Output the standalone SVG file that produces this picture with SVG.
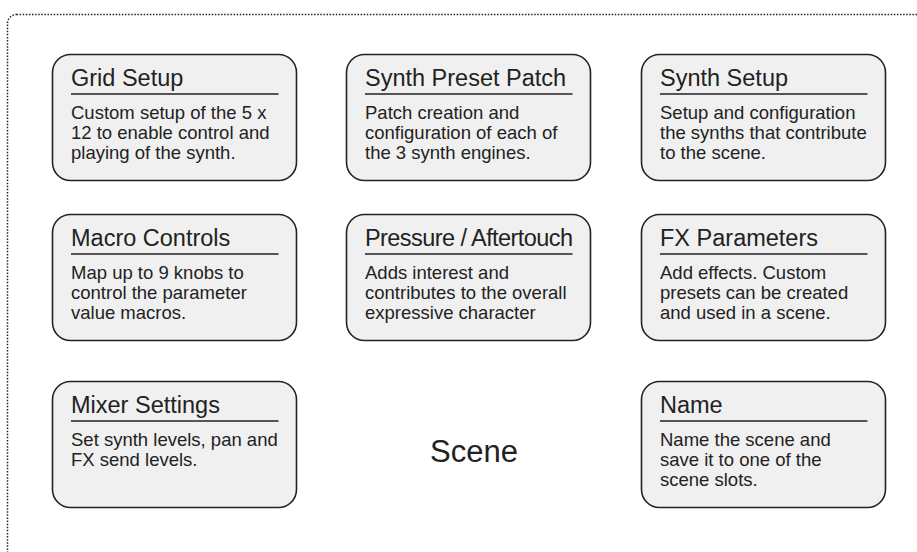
<svg xmlns="http://www.w3.org/2000/svg" width="917" height="552" viewBox="0 0 917 552">
  <style>
    .frame { fill: none; stroke: #222; stroke-width: 1.5; stroke-dasharray: 1.5 1.6; }
    .card { fill: #f0f0f0; stroke: #222; stroke-width: 1.6; }
    .rule { stroke: #222; stroke-width: 1.6; }
    .title { font-family: "Liberation Sans", Arial, sans-serif; font-size: 23.5px; fill: #222; }
    .body { font-family: "Liberation Sans", Arial, sans-serif; font-size: 18.5px; fill: #222; }
    .scene { font-family: "Liberation Sans", Arial, sans-serif; font-size: 31px; fill: #222; }
  </style>
  <rect width="917" height="552" fill="#fff"/>
  <!-- outer scene boundary, open to the right and bottom -->
  <rect class="frame" x="7.5" y="14.5" width="960" height="600" rx="9" ry="9"/>

  <g id="grid-setup" transform="translate(52.5,54.5)">
    <rect class="card" width="244" height="126" rx="18" ry="18"/>
    <text class="title" x="18.5" y="31">Grid Setup</text>
    <line class="rule" x1="18.5" y1="39.5" x2="226" y2="39.5"/>
    <text class="body" x="18.5" y="64">Custom setup of the 5 x</text>
    <text class="body" x="18.5" y="84">12 to enable control and</text>
    <text class="body" x="18.5" y="104">playing of the synth.</text>
  </g>

  <g id="synth-preset-patch" transform="translate(346.5,54.5)">
    <rect class="card" width="244" height="126" rx="18" ry="18"/>
    <text class="title" x="18.5" y="31">Synth Preset Patch</text>
    <line class="rule" x1="18.5" y1="39.5" x2="226" y2="39.5"/>
    <text class="body" x="18.5" y="64">Patch creation and</text>
    <text class="body" x="18.5" y="84">configuration of each of</text>
    <text class="body" x="18.5" y="104">the 3 synth engines.</text>
  </g>

  <g id="synth-setup" transform="translate(641.5,54.5)">
    <rect class="card" width="244" height="126" rx="18" ry="18"/>
    <text class="title" x="18.5" y="31">Synth Setup</text>
    <line class="rule" x1="18.5" y1="39.5" x2="226" y2="39.5"/>
    <text class="body" x="18.5" y="64">Setup and configuration</text>
    <text class="body" x="18.5" y="84">the synths that contribute</text>
    <text class="body" x="18.5" y="104">to the scene.</text>
  </g>

  <g id="macro-controls" transform="translate(52.5,214.5)">
    <rect class="card" width="244" height="126" rx="18" ry="18"/>
    <text class="title" x="18.5" y="31">Macro Controls</text>
    <line class="rule" x1="18.5" y1="39.5" x2="226" y2="39.5"/>
    <text class="body" x="18.5" y="64">Map up to 9 knobs to</text>
    <text class="body" x="18.5" y="84">control the parameter</text>
    <text class="body" x="18.5" y="104">value macros.</text>
  </g>

  <g id="pressure-aftertouch" transform="translate(346.5,214.5)">
    <rect class="card" width="244" height="126" rx="18" ry="18"/>
    <text class="title" x="18.5" y="31" textLength="208" lengthAdjust="spacing">Pressure / Aftertouch</text>
    <line class="rule" x1="18.5" y1="39.5" x2="226" y2="39.5"/>
    <text class="body" x="18.5" y="64">Adds interest and</text>
    <text class="body" x="18.5" y="84">contributes to the overall</text>
    <text class="body" x="18.5" y="104">expressive character</text>
  </g>

  <g id="fx-parameters" transform="translate(641.5,214.5)">
    <rect class="card" width="244" height="126" rx="18" ry="18"/>
    <text class="title" x="18.5" y="31">FX Parameters</text>
    <line class="rule" x1="18.5" y1="39.5" x2="226" y2="39.5"/>
    <text class="body" x="18.5" y="64">Add effects. Custom</text>
    <text class="body" x="18.5" y="84">presets can be created</text>
    <text class="body" x="18.5" y="104">and used in a scene.</text>
  </g>

  <g id="mixer-settings" transform="translate(52.5,381.5)">
    <rect class="card" width="244" height="126" rx="18" ry="18"/>
    <text class="title" x="18.5" y="31">Mixer Settings</text>
    <line class="rule" x1="18.5" y1="39.5" x2="226" y2="39.5"/>
    <text class="body" x="18.5" y="64">Set synth levels, pan and</text>
    <text class="body" x="18.5" y="84">FX send levels.</text>
  </g>

  <g id="name" transform="translate(641.5,381.5)">
    <rect class="card" width="244" height="126" rx="18" ry="18"/>
    <text class="title" x="18.5" y="31">Name</text>
    <line class="rule" x1="18.5" y1="39.5" x2="226" y2="39.5"/>
    <text class="body" x="18.5" y="64">Name the scene and</text>
    <text class="body" x="18.5" y="84">save it to one of the</text>
    <text class="body" x="18.5" y="104">scene slots.</text>
  </g>

  <g id="scene-label">
    <text class="scene" x="474" y="462" text-anchor="middle">Scene</text>
  </g>

  <g id="connectors"/>
</svg>
